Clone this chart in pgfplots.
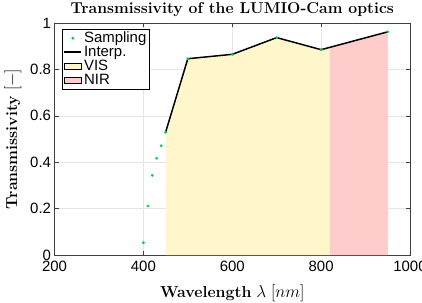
\documentclass[border=0pt]{standalone}
\usepackage{pgfplots}
\pgfplotsset{compat=1.18}
\usepackage{fontspec}
\newfontfamily\hel{Liberation Sans}
\definecolor{visc}{RGB}{255,246,204}
\definecolor{nirc}{RGB}{255,204,204}
\definecolor{mk}{RGB}{0,210,60}
\begin{document}
\begin{tikzpicture}
\begin{axis}[
  scale only axis, width=355.5bp, height=232bp,
  xmin=200, xmax=1000, ymin=0, ymax=1,
  xtick={200,400,600,800,1000}, ytick={0,0.2,0.4,0.6,0.8,1},
  /pgf/number format/assume math mode=true,
  /pgf/number format/set thousands separator={},
  tick label style={font=\hel\fontsize{15}{17}\selectfont},
  yticklabel style={/pgf/number format/fixed},
  xticklabel style={yshift=-3bp},
  grid=major, major grid style={draw=black!10},
  tick align=inside, major tick length=4bp,
  axis line style={draw=black!75, line width=0.6pt},
  every tick/.style={draw=black!75},
  title={\fontsize{15.8}{18}\selectfont\textbf{Transmissivity of the LUMIO-Cam optics}},
  title style={yshift=-3bp},
  xlabel={\fontsize{16}{18}\selectfont\textbf{Wavelength} $\lambda$ $[nm]$},
  ylabel={\fontsize{16}{18}\selectfont\textbf{Transmissivity} $[-]$},
  xlabel style={yshift=-6bp},
  ylabel style={yshift=2bp},
  legend style={at={(0.022,0.975)}, anchor=north west, font=\hel\fontsize{15}{17}\selectfont,
    draw=black, line width=0.5pt, inner sep=1pt, row sep=-2pt},
  legend cell align=left,
]
\addlegendimage{only marks, mark=*, mark size=1.2pt, color=mk}
\addlegendentry{Sampling}
\addlegendimage{black, line width=1.5pt}
\addlegendentry{Interp.}
\addlegendimage{area legend, fill=visc, draw=none}
\addlegendentry{VIS}
\addlegendimage{area legend, fill=nirc, draw=none}
\addlegendentry{NIR}
\addplot[fill=visc, draw=none, forget plot] coordinates {(450,0.529)(500,0.846)(600,0.865)(700,0.937)(800,0.885)(820,0.895)} \closedcycle;
\addplot[fill=nirc, draw=none, forget plot] coordinates {(820,0.895)(950,0.962)} \closedcycle;
\addplot[black, line width=1.5pt, forget plot] coordinates {(450,0.529)(500,0.846)(600,0.865)(700,0.937)(800,0.885)(950,0.962)};
\addplot[only marks, mark=*, mark size=1.2pt, color=mk, forget plot] coordinates {(400,0.053)(410,0.211)(420,0.343)(430,0.417)(440,0.471)(450,0.529)(500,0.846)(600,0.865)(700,0.937)(800,0.885)(950,0.962)};
\end{axis}
\pgfresetboundingbox
\path ([shift={(-54.5bp,-47bp)}]current axis.south west) rectangle ([shift={(12bp,23bp)}]current axis.north east);
\end{tikzpicture}
\end{document}
